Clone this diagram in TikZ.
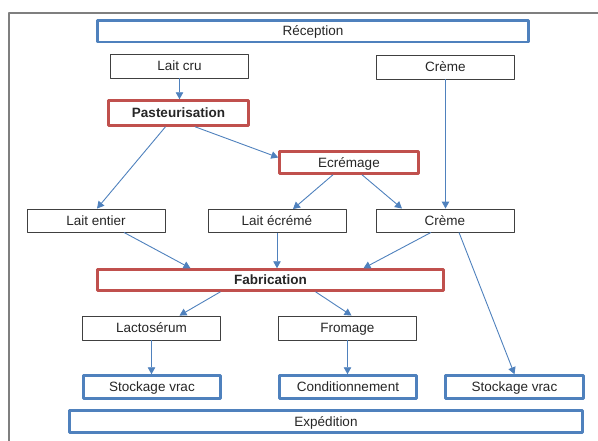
\documentclass[tikz,border=0pt]{standalone}
\usepackage{fontspec}
\setmainfont{Liberation Sans}
\usetikzlibrary{arrows.meta}
\definecolor{lineblue}{HTML}{4F81BD}
\definecolor{boxred}{HTML}{C0504D}
\definecolor{framegray}{HTML}{7F7F7F}
\begin{document}
\begin{tikzpicture}[x=1pt, y=-1pt, line join=round, >={Triangle[length=7pt,width=7.5pt]},
	every node/.style={font=\fontsize{13.5}{15}\selectfont, text=black!85, inner sep=0pt, text height=10pt, text depth=0.3pt},
	plain/.style={draw=black!75, line width=0.9pt, minimum width=138pt, minimum height=24pt},
	bleu/.style={draw=lineblue, line width=2.5pt, minimum width=137pt, minimum height=23pt},
	rouge/.style={draw=boxred, line width=2.5pt, minimum width=140pt, minimum height=24pt, font=\fontsize{13.5}{15}\selectfont\bfseries},
	fleche/.style={->, draw=lineblue, line width=0.9pt}]
	\useasboundingbox (0,0) rectangle (598,440);
	% cadre
	\draw[framegray, line width=1.3pt] (9,442) -- (9,13) -- (600,13);
	% boites
	\node[bleu, minimum width=431pt, minimum height=21.5pt] (reception) at (313,31) {Réception};
	\node[plain] (laitcru) at (179.5,66) {Lait cru};
	\node[plain] (cremeA) at (445.5,67) {Crème};
	\node[rouge, minimum height=25pt] (pasteur) at (178.5,113) {Pasteurisation};
	\node[rouge, font=\fontsize{13.5}{15}\selectfont, minimum width=139pt, minimum height=22pt] (ecremage) at (349,162.5) {Ecrémage};
	\node[plain, minimum height=23pt] (laitentier) at (96,220.5) {Lait entier};
	\node[plain, minimum height=23pt] (laitecreme) at (277,221) {Lait écrémé};
	\node[plain, minimum height=23pt] (cremeB) at (445,220.5) {Crème};
	\node[rouge, minimum width=346pt, minimum height=21pt] (fabrication) at (270.5,280) {Fabrication};
	\node[plain] (lacto) at (151.5,328) {Lactosérum};
	\node[plain] (fromage) at (347.5,328) {Fromage};
	\node[bleu] (stockA) at (152,387) {Stockage vrac};
	\node[bleu] (condit) at (348,387) {Conditionnement};
	\node[bleu, minimum width=138pt] (stockB) at (514.5,387) {Stockage vrac};
	\node[bleu, minimum width=513pt, minimum height=22pt] (expedition) at (326,421.5) {Expédition};
	% fleches verticales
	\foreach \a/\b in {laitcru/pasteur, cremeA/cremeB, laitecreme/fabrication, lacto/stockA, fromage/condit}
		\draw[fleche] (\a.south) -- (\a.south |- \b.north);
	% fleches obliques
	\draw[fleche] ([xshift=-13pt]pasteur.south) -- ([xshift=1pt]laitentier.north);
	\draw[fleche] ([xshift=16.5pt]pasteur.south) -- ([yshift=5pt]ecremage.west);
	\draw[fleche] ([xshift=-16pt]ecremage.south) -- ([xshift=16pt]laitecreme.north);
	\draw[fleche] ([xshift=13pt]ecremage.south) -- ([xshift=-43pt]cremeB.north);
	\draw[fleche] ([xshift=28pt]laitentier.south) -- ([xshift=-80pt]fabrication.north);
	\draw[fleche] ([xshift=-14pt]cremeB.south) -- ([xshift=93pt]fabrication.north);
	\draw[fleche] ([xshift=14pt]cremeB.south) -- (stockB.north);
	\draw[fleche] ([xshift=-50pt]fabrication.south) -- ([xshift=28pt]lacto.north);
	\draw[fleche] ([xshift=45pt]fabrication.south) -- ([xshift=4pt]fromage.north);
\end{tikzpicture}
\end{document}
